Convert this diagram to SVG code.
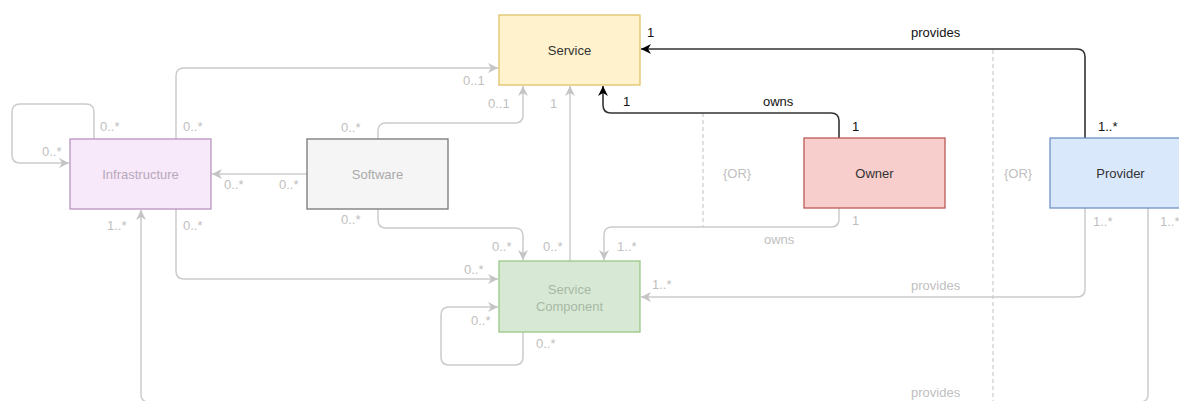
<svg xmlns="http://www.w3.org/2000/svg" width="1179" height="401" viewBox="0 0 1179 401">
  <defs>
    <marker id="arrGray" viewBox="0 0 10 10" refX="10" refY="5" markerWidth="10" markerHeight="10" markerUnits="userSpaceOnUse" orient="auto">
      <path d="M0,0 L10,5 L0,10 L3,5 z" fill="#c4c4c4"/>
    </marker>
    <marker id="arrBlack" viewBox="0 0 10 10" refX="10" refY="5" markerWidth="10" markerHeight="10" markerUnits="userSpaceOnUse" orient="auto">
      <path d="M0,0 L10,5 L0,10 L3,5 z" fill="#000"/>
    </marker>
  </defs>
  <style>
    text { font-family: "Liberation Sans", Arial, sans-serif; font-size: 13px; }
    .gl { fill: none; stroke: #cccccc; stroke-width: 1.5; }
    .bl { fill: none; stroke: #333333; stroke-width: 1.6; }
    .ga { marker-end: url(#arrGray); }
    .ba { marker-end: url(#arrBlack); }
    .dash { fill: none; stroke: #cccccc; stroke-width: 1.2; stroke-dasharray: 4 3; }
    .lg { fill: #c0c0c0; }
    .lb { fill: #111111; }
    .node { stroke-width: 1.3; }
    .nt { text-anchor: middle; }
  </style>

  <rect width="1179" height="401" fill="#ffffff"/>

  <!-- connectors -->
  <g id="connectors">
    <!-- OR separators -->
    <line class="dash" x1="703" y1="113" x2="703" y2="227"/>
    <line class="dash" x1="993" y1="50" x2="993" y2="401"/>

    <!-- Infrastructure self association -->
    <path class="gl ga" d="M94,139 V112 Q94,104 86,104 H20 Q12,104 12,112 V155 Q12,163 20,163 H69"/>
    <!-- Infrastructure to Service -->
    <path class="gl ga" d="M176,139 V76 Q176,68 184,68 H498"/>
    <!-- Infrastructure to Service Component -->
    <path class="gl ga" d="M176,209 V271 Q176,279 184,279 H498"/>
    <!-- Software to Infrastructure -->
    <path class="gl ga" d="M307,174 H212"/>
    <!-- Software to Service -->
    <path class="gl ga" d="M378,139 V131 Q378,123 386,123 H515 Q523,123 523,115 V86"/>
    <!-- Software to Service Component -->
    <path class="gl ga" d="M378,209 V220 Q378,228 386,228 H515 Q523,228 523,236 V260"/>
    <!-- Service Component to Service -->
    <path class="gl ga" d="M570,261 V86"/>
    <!-- Service Component self association -->
    <path class="gl ga" d="M523,332 V357 Q523,365 515,365 H449 Q441,365 441,357 V315 Q441,307 449,307 H498"/>
    <!-- Owner owns Service Component -->
    <path class="gl ga" d="M839,208 V219 Q839,227 831,227 H612 Q604,227 604,235 V260"/>
    <!-- Provider provides Service Component -->
    <path class="gl ga" d="M1085,208 V289 Q1085,297 1077,297 H641"/>
    <!-- Provider provides Infrastructure (bottom run sits at the page edge) -->
    <path class="gl ga" d="M1148,208 V394 Q1148,402 1140,402 H149 Q141,402 141,394 V210"/>

    <!-- Owner owns Service -->
    <path class="bl ba" d="M839,138 V121 Q839,113 831,113 H611 Q603,113 603,105 V86"/>
    <!-- Provider provides Service -->
    <path class="bl ba" d="M1085,138 V57 Q1085,49 1077,49 H641"/>
  </g>

  <!-- nodes -->
  <g id="service">
    <rect class="node" x="499" y="15" width="141" height="70" fill="#fff2cc" stroke="#dfc269"/>
    <text class="nt" x="569.5" y="55" fill="#333333">Service</text>
  </g>
  <g id="infrastructure">
    <rect class="node" x="70" y="139" width="141" height="70" fill="#f7e8fa" stroke="#b895bf"/>
    <text class="nt" x="140.5" y="179" fill="#b8a8bb">Infrastructure</text>
  </g>
  <g id="software">
    <rect class="node" x="307" y="139" width="141" height="70" fill="#f5f5f5" stroke="#777777"/>
    <text class="nt" x="377.5" y="179" fill="#aaaaaa">Software</text>
  </g>
  <g id="service-component">
    <rect class="node" x="499" y="261" width="141" height="71" fill="#d7e9d5" stroke="#9cc786"/>
    <text class="nt" x="569.5" y="294" fill="#a9b8a6">Service</text>
    <text class="nt" x="569.5" y="311" fill="#a9b8a6">Component</text>
  </g>
  <g id="owner">
    <rect class="node" x="804" y="138" width="141" height="70" fill="#f8cecc" stroke="#bb5a56"/>
    <text class="nt" x="874.5" y="178" fill="#333333">Owner</text>
  </g>
  <g id="provider">
    <rect class="node" x="1050" y="138" width="141" height="70" fill="#dae8fc" stroke="#7193c4"/>
    <text class="nt" x="1120.5" y="178" fill="#333333">Provider</text>
  </g>

  <!-- association labels -->
  <g id="labels">
    <text class="lb" x="647" y="37">1</text>
    <text class="lb" x="911" y="37">provides</text>
    <text class="lb" x="1098" y="131">1..*</text>
    <text class="lb" x="763" y="106">owns</text>
    <text class="lb" x="623" y="106">1</text>
    <text class="lb" x="852" y="131">1</text>

    <text class="lg" x="463" y="85">0..1</text>
    <text class="lg" x="488" y="108">0..1</text>
    <text class="lg" x="550" y="108">1</text>
    <text class="lg" x="341" y="132">0..*</text>

    <text class="lg" x="100" y="131">0..*</text>
    <text class="lg" x="183" y="131">0..*</text>
    <text class="lg" x="42" y="156">0..*</text>
    <text class="lg" x="224" y="189">0..*</text>
    <text class="lg" x="279" y="189">0..*</text>
    <text class="lg" x="107" y="230">1..*</text>
    <text class="lg" x="183" y="230">0..*</text>
    <text class="lg" x="341" y="224">0..*</text>

    <text class="lg" x="492" y="251">0..*</text>
    <text class="lg" x="543" y="251">0..*</text>
    <text class="lg" x="617" y="251">1..*</text>
    <text class="lg" x="464" y="274">0..*</text>
    <text class="lg" x="652" y="289">1..*</text>
    <text class="lg" x="471" y="325">0..*</text>
    <text class="lg" x="536" y="348">0..*</text>

    <text class="lg" x="852" y="225">1</text>
    <text class="lg" x="764" y="244">owns</text>
    <text class="lg" x="723" y="178">{OR}</text>
    <text class="lg" x="1004" y="178">{OR}</text>
    <text class="lg" x="1093" y="226">1..*</text>
    <text class="lg" x="1160" y="226">1..*</text>
    <text class="lg" x="911" y="290">provides</text>
    <text class="lg" x="911" y="397">provides</text>
  </g>
</svg>
